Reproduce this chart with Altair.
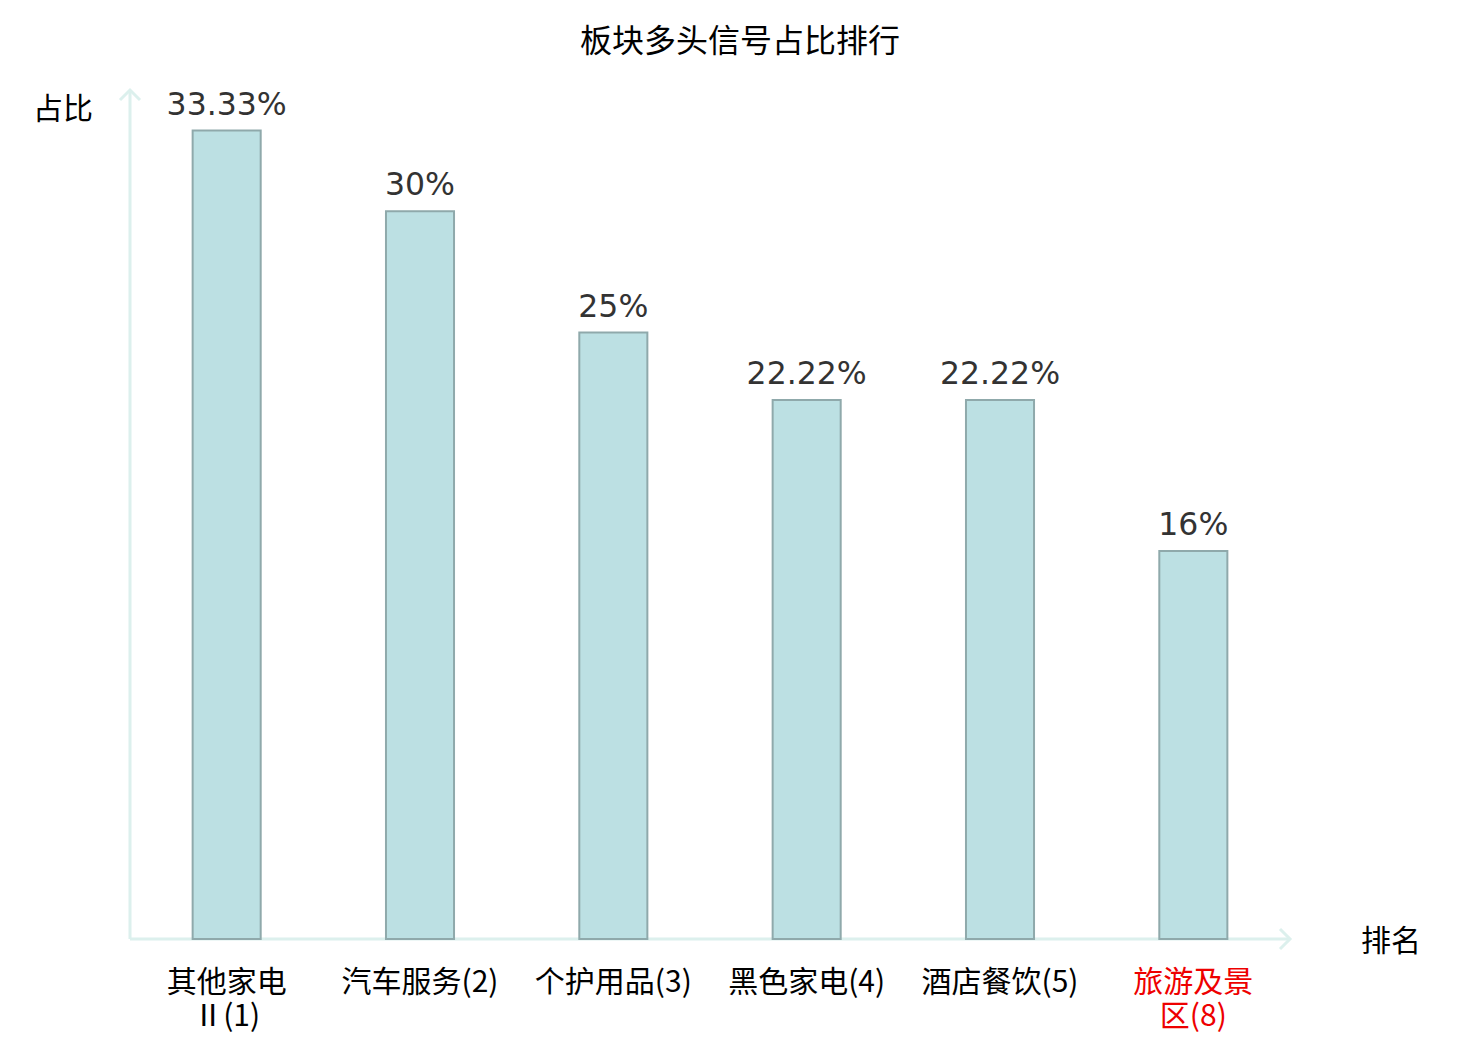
import altair as alt
import pandas as pd

categories = ["其他家电\nⅡ(1)", "汽车服务(2)", "个护用品(3)", "黑色家电(4)", "酒店餐饮(5)", "旅游及景\n区(8)"]
values = [33.33, 30, 25, 22.22, 22.22, 16]
value_labels = ["33.33%", "30%", "25%", "22.22%", "22.22%", "16%"]

title_text = "板块多头信号占比排行"
y_title = "占比"
x_title = "排名"

W, H = 1160, 849

df = pd.DataFrame({"cat": categories, "val": values, "lab": value_labels})
one = pd.DataFrame({"a": [0]})

x_enc = alt.X(
    "cat:N",
    sort=categories,
    scale=alt.Scale(paddingInner=0.648, paddingOuter=0.324),
    axis=alt.Axis(
        title=None,
        domain=False,
        ticks=False,
        labelAngle=0,
        labelFontSize=30,
        labelFont="Noto Sans CJK SC",
        labelPadding=28,
        labelLineHeight=34,
        labelLimit=400,
        labelExpr="split(datum.label, '\\n')",
        labelColor={"condition": {"test": "indexof(datum.value, '旅游') >= 0", "value": "#ee0000"}, "value": "#000000"},
    ),
)
y_enc = alt.Y("val:Q", scale=alt.Scale(domain=[0, 35], nice=False), axis=None)

base = alt.Chart(df)

bars = base.mark_bar(fill="#BCE0E3", stroke="#8FA9AB", strokeWidth=2).encode(x=x_enc, y=y_enc)
texts = base.mark_text(dy=-16, baseline="alphabetic", fontSize=31.5, color="#333333", font="DejaVu Sans").encode(
    x=alt.X("cat:N", sort=categories), y="val:Q", text="lab:N"
)

axis_color = "#DCF0ED"
yline = alt.Chart(one).mark_rule(color=axis_color, strokeWidth=3).encode(
    x=alt.value(0), y=alt.value(2), y2=alt.value(H)
)
xline = alt.Chart(one).mark_rule(color=axis_color, strokeWidth=3).encode(
    x=alt.value(0), x2=alt.value(W - 2), y=alt.value(H)
)
up_arrow = alt.Chart(one).mark_point(
    shape="M -1 1 L 0 0 L 1 1", filled=False, stroke=axis_color, strokeWidth=3, size=400, opacity=1
).encode(x=alt.value(0), y=alt.value(0))
right_arrow = alt.Chart(one).mark_point(
    shape="M -1 -1 L 0 0 L -1 1", filled=False, stroke=axis_color, strokeWidth=3, size=400, opacity=1
).encode(x=alt.value(W), y=alt.value(H))

ytitle = alt.Chart(one).mark_text(fontSize=30, color="#000000", font="Noto Sans CJK SC").encode(
    x=alt.value(-67), y=alt.value(20), text=alt.value(y_title)
)
xtitle = alt.Chart(one).mark_text(fontSize=30, color="#000000", font="Noto Sans CJK SC").encode(
    x=alt.value(1261), y=alt.value(852), text=alt.value(x_title)
)
ttl = alt.Chart(one).mark_text(fontSize=32, color="#000000", font="Noto Sans CJK SC").encode(
    x=alt.value(610), y=alt.value(-48), text=alt.value(title_text)
)

chart = alt.layer(yline, xline, up_arrow, right_arrow, bars, texts, ytitle, xtitle, ttl).properties(
    width=W,
    height=H,
    padding={"left": 122, "top": 82, "right": 180, "bottom": 98},
    autosize=alt.AutoSizeParams(type="none"),
    background="white",
).configure_view(stroke=None)

chart.save("out.html", embed_options={"renderer": "svg", "actions": False})
